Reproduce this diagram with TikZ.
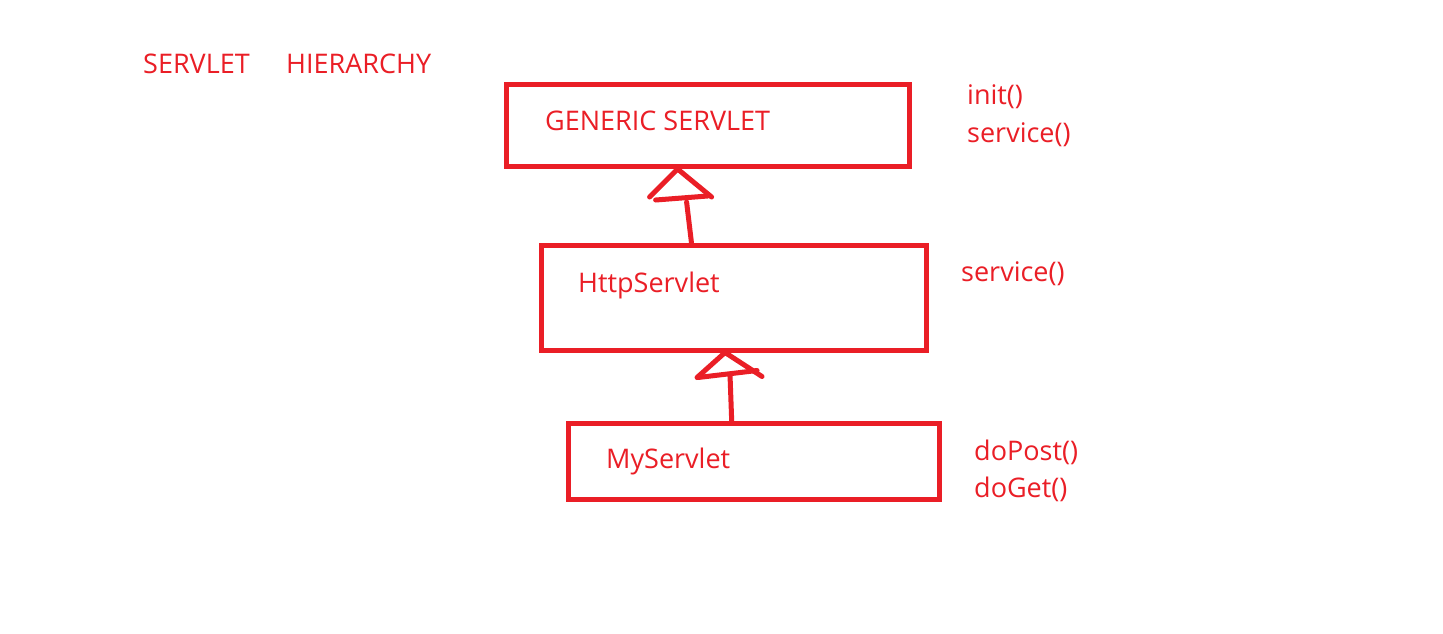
\documentclass[tikz,border=0pt]{standalone}
\usepackage{fontspec}
\setmainfont{Open Sans}
\usetikzlibrary{calc}
\definecolor{pred}{RGB}{234,30,38}
\begin{document}
\begin{tikzpicture}[x=1pt,y=-1pt,
  box/.style={draw=pred,line width=5pt,inner sep=0pt},
  lbl/.style={text=pred,font=\fontsize{27}{31}\selectfont,anchor=base west,inner sep=0pt},
  conn/.style={draw=pred,line width=5pt,line cap=round,line join=round}]
\useasboundingbox[fill=white] (0,0) rectangle (1443,633);
% boxes
\node[box,minimum width=402.5pt,minimum height=82.5pt] (b1) at (707.75,125.25) {};
\node[box,minimum width=385pt,minimum height=104.5pt] (b2) at (734,297.75) {};
\node[box,minimum width=371pt,minimum height=75.5pt] (b3) at (753.5,461.25) {};
% labels
\node[lbl] (title1) at (143,73) {SERVLET};
\node[lbl] (title2) at (286,73) {HIERARCHY};
\node[lbl] (t1) at (545,130) {GENERIC SERVLET};
\node[lbl] (t2) at (578,292) {HttpServlet};
\node[lbl] (t3) at (606,468) {MyServlet};
\node[lbl] (m1) at (967,104) {init()};
\node[lbl] (m2) at (967,142) {service()};
\node[lbl] (m3) at (961,281) {service()};
\node[lbl] (m4) at (974,460) {doPost()};
\node[lbl] (m5) at (974,497) {doGet()};
% arrow 1 (HttpServlet -> GENERIC SERVLET)
\path (b1.south west) -- (b1.south east) coordinate[pos=0.426] (a1);
\path (b2.north west) -- (b2.north east) coordinate[pos=0.391] (s1);
\coordinate (a1l) at ($(a1)+(-28,28)$);
\coordinate (a1r) at ($(a1)+(34,28)$);
\coordinate (a1b1) at ($(a1)+(-22,31)$);
\coordinate (a1b2) at ($(a1)+(30,27)$);
\coordinate (a1s) at ($(a1)+(9,33)$);
\draw[conn] (a1l) -- (a1) -- (a1r);
\draw[conn] (a1b1) -- (a1b2);
\draw[conn] (s1) -- (a1s);
% arrow 2 (MyServlet -> HttpServlet)
\path (b2.south west) -- (b2.south east) coordinate[pos=0.477] (a2);
\path (b3.north west) -- (b3.north east) coordinate[pos=0.442] (s2);
\coordinate (a2l) at ($(a2)+(-28,25)$);
\coordinate (a2r) at ($(a2)+(37,24)$);
\coordinate (a2b1) at ($(a2)+(-27,25)$);
\coordinate (a2b2) at ($(a2)+(32,18)$);
\coordinate (a2s) at ($(a2)+(5,23)$);
\draw[conn] (a2l) -- (a2) -- (a2r);
\draw[conn] (a2b1) -- (a2b2);
\draw[conn] (s2) -- (a2s);
\end{tikzpicture}
\end{document}
